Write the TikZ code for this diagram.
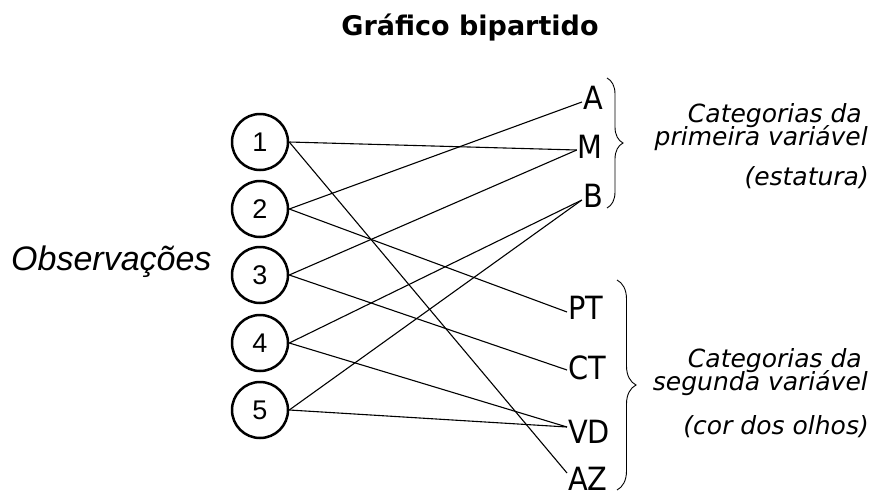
\documentclass[tikz,border=0pt]{standalone}
\usepackage{fontspec}
\setmainfont{DejaVu Sans}
\newfontfamily\condf{DejaVu Sans Condensed}
\newfontfamily\arialf{Liberation Sans}
\usetikzlibrary{decorations.pathreplacing}
\begin{document}
\begin{tikzpicture}[x=1pt,y=-1pt,
  obs/.style={circle, draw, line width=2.5pt, minimum size=56pt, inner sep=0pt,
    font=\arialf\fontsize{27}{27}\selectfont},
  cat/.style={font=\condf\fontsize{32}{32}\selectfont, inner sep=1pt},
  desc/.style={font=\itshape\fontsize{25}{25}\selectfont, anchor=base east, inner sep=0pt},
  link/.style={line width=1.1pt},
  bracebig/.style={decorate, decoration={brace, amplitude=#1}, line width=0.9pt}
]
\useasboundingbox (0,0) rectangle (878,491);

% title
\node[anchor=base, inner sep=0pt, font=\bfseries\fontsize{27}{27}\selectfont] (title) at (470,35) {Gráfico bipartido};

% observations
\node[anchor=base west, inner sep=0pt, font=\arialf\itshape\fontsize{34}{34}\selectfont] (obslabel) at (11,270) {Observações};
\node[obs] (c1) at (260,142) {1};
\node[obs] (c2) at (260,209) {2};
\node[obs] (c3) at (260,275) {3};
\node[obs] (c4) at (260,343) {4};
\node[obs] (c5) at (260,410) {5};

% first variable categories
\node[cat, anchor=east] (A) at (604,98) {A};
\node[cat, anchor=east] (M) at (604,147) {M};
\node[cat, anchor=east] (B) at (604,196) {B};

% second variable categories
\node[cat, anchor=west] (PT) at (567,308) {PT};
\node[cat, anchor=west] (CT) at (567,368) {CT};
\node[cat, anchor=west] (VD) at (567,432) {VD};
\node[cat, anchor=west] (AZ) at (567,479) {AZ};

% connectors
\draw[link] (c1.east) -- ([yshift=-3pt]M.west);
\draw[link] (c1.east) -- ([yshift=6pt]AZ.west);
\draw[link] (c2.east) -- ([yshift=-4pt]A.west);
\draw[link] (c2.east) -- ([yshift=-4pt]PT.west);
\draw[link] (c3.east) -- ([yshift=-3pt]M.west);
\draw[link] (c3.east) -- ([yshift=-2pt]CT.west);
\draw[link] (c4.east) -- ([yshift=-4pt]B.west);
\draw[link] (c4.east) -- ([yshift=5pt]VD.west);
\draw[link] (c5.east) -- ([yshift=-4pt]B.west);
\draw[link] (c5.east) -- ([yshift=5pt]VD.west);

% braces
\coordinate (b1t) at (607,78);
\coordinate (b1b) at (607,208);
\coordinate (b2t) at (617,280);
\coordinate (b2b) at (617,490);
\draw[bracebig=16pt] (b1t) -- (b1b);
\draw[bracebig=19pt] (b2t) -- (b2b);

% descriptions
\node[desc] (d1a) at (862,122) {Categorias da};
\node[desc] (d1b) at (868,145) {primeira variável};
\node[desc] (d1c) at (869,185) {(estatura)};
\node[desc] (d2a) at (862,367) {Categorias da};
\node[desc] (d2b) at (868,390) {segunda variável};
\node[desc] (d2c) at (869,434) {(cor dos olhos)};
\end{tikzpicture}
\end{document}
